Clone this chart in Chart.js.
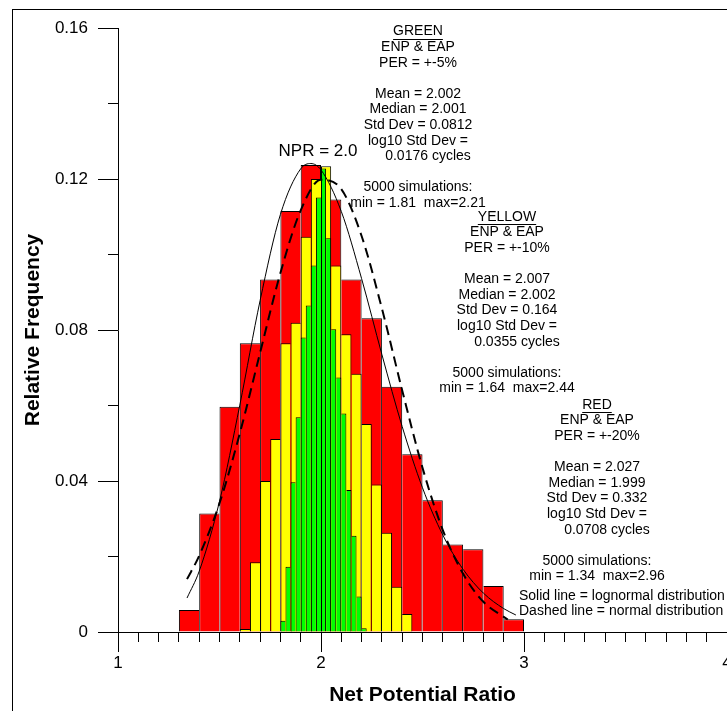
<!DOCTYPE html>
<html><head><meta charset="utf-8">
<script src="https://cdn.jsdelivr.net/npm/chart.js@4"></script>
<style>html,body{margin:0;padding:0;background:#fff}canvas{display:block}</style>
</head><body>
<canvas id="c" width="727" height="711"></canvas>
<script>
// ---- DATA ----
const redBinCenters = [1.35,1.45,1.55,1.65,1.75,1.85,1.95,2.05,2.15,2.25,2.35,2.45,2.55,2.65,2.75,2.85,2.95];
const redFreq = [0.0058,0.0314,0.0597,0.0765,0.0934,0.1115,0.1237,0.1146,0.0934,0.0831,0.0650,0.0471,0.0349,0.0232,0.0219,0.0122,0.0034];

const yellowBinCenters = [1.625,1.675,1.725,1.775,1.825,1.875,1.925,1.975,2.025,2.075,2.125,2.175,2.225,2.275,2.325,2.375,2.425];
const yellowFreq = [0.0008,0.0185,0.0400,0.0511,0.0765,0.0819,0.1047,0.1200,0.1234,0.0971,0.0789,0.0684,0.0551,0.0391,0.0263,0.0120,0.0048];

const greenBinCenters = [1.8125,1.8375,1.8625,1.8875,1.9125,1.9375,1.9625,1.9875,2.0125,2.0375,2.0625,2.0875,2.1125,2.1375,2.1625,2.1875,2.2125];
const greenFreq = [0.0030,0.0173,0.0397,0.0569,0.0780,0.0865,0.0971,0.1151,0.1228,0.1043,0.0802,0.0674,0.0579,0.0376,0.0255,0.0094,0.0010];

const lognormX = [1.34,1.4,1.5,1.6,1.7,1.8,1.9,1.95,2.0,2.1,2.2,2.3,2.4,2.5,2.6,2.7,2.8,2.9,2.96];
const lognormY = [0.0090,0.0161,0.0346,0.0601,0.0878,0.1106,0.1227,0.1241,0.1224,0.1114,0.0936,0.0735,0.0544,0.0382,0.0257,0.0166,0.0103,0.0062,0.0045];

const normalX = [1.34,1.4,1.5,1.6,1.7,1.8,1.9,2.0,2.1,2.2,2.3,2.4,2.5,2.6,2.7,2.8,2.92];
const normalY = [0.0140,0.0202,0.0341,0.0526,0.0740,0.0951,0.1117,0.1198,0.1173,0.1049,0.0857,0.0640,0.0435,0.0270,0.0154,0.0080,0.0033];

const xMajorTicks = [1,2,3,4];
const xMinorTicks = [1.0,1.1,1.2,1.3,1.4,1.5,1.6,1.7,1.8,1.9,2.0,2.1,2.2,2.3,2.4,2.5,2.6,2.7,2.8,2.9,3.0,3.1,3.2,3.3,3.4,3.5,3.6,3.7,3.8,3.9,4.0];
const yMajorTicks = [0,0.04,0.08,0.12,0.16];
const yMinorTicks = [0.02,0.06,0.10,0.14];

const greenText = ['GREEN','ENP & EAP','PER = +-5%','','Mean = 2.002','Median = 2.001','Std Dev = 0.0812','log10 Std Dev =','0.0176 cycles','','5000 simulations:','min = 1.81  max=2.21'];
const yellowText = ['YELLOW','ENP & EAP','PER = +-10%','','Mean = 2.007','Median = 2.002','Std Dev = 0.164','log10 Std Dev =','0.0355 cycles','','5000 simulations:','min = 1.64  max=2.44'];
const redText = ['RED','ENP & EAP','PER = +-20%','','Mean = 2.027','Median = 1.999','Std Dev = 0.332','log10 Std Dev =','0.0708 cycles','','5000 simulations:','min = 1.34  max=2.96'];
const legendText = ['Solid line = lognormal distribution','Dashed line = normal distribution'];
const nprText = 'NPR = 2.0';

// ---- helpers ----
const FONT = "'Liberation Sans', Arial, sans-serif";
const pts = (xs, ys) => xs.map((x,i)=>({x:x, y:ys[i]}));
function edges(freq){
  return ctx => {
    const i = ctx.dataIndex, v = freq[i];
    const p = i>0 ? freq[i-1] : -1, n = i<freq.length-1 ? freq[i+1] : -1;
    return {top:1, bottom:0, left: v>p?1:0, right: v>=n?1:0};
  };
}
function barSet(label, centers, freq, color, axis, order){
  return {type:'bar', label, data: pts(centers, freq), xAxisID: axis, yAxisID:'y',
    backgroundColor: color, borderColor:'#000', borderWidth: edges(freq), borderSkipped:false,
    inflateAmount:0, barPercentage:1, categoryPercentage:1, grouped:false, order};
}
const hiddenX = () => ({type:'linear', display:false, min:1, max:4, offset:false, grid:{offset:false}, ticks:{stepSize:1}});

const framePlugin = {
  id:'frame',
  beforeDraw(chart){
    const c = chart.ctx; c.save();
    c.fillStyle='#fff'; c.fillRect(0,0,chart.width,chart.height);
    c.strokeStyle='#000'; c.lineWidth=1;
    c.strokeRect(12.5,9.5,chart.width+20,chart.height+20);
    c.restore();
  }
};
function drawBlock(c, lines, cx, y0){
  const lh = 15.6;
  lines.forEach((t,i)=>{
    if(!t) return;
    const y = y0 + i*lh;
    const dx = (i===8) ? 10 : 0;
    c.fillText(t, cx+dx, y);
    if(i===0){
      const w = c.measureText(t).width;
      c.beginPath(); c.moveTo(cx-w/2, Math.round(y+7)+0.5); c.lineTo(cx+w/2, Math.round(y+7)+0.5); c.stroke();
    }
  });
}
const textPlugin = {
  id:'texts',
  afterDraw(chart){
    const c = chart.ctx; c.save();
    c.fillStyle='#000'; c.strokeStyle='#000'; c.lineWidth=1;
    c.textBaseline='middle'; c.textAlign='center';
    c.font = '14px ' + FONT;
    drawBlock(c, greenText, 418, 31.5);
    drawBlock(c, yellowText, 507, 217);
    drawBlock(c, redText, 597, 405);
    c.textAlign='left';
    c.fillText(legendText[0], 519, 596);
    c.fillText(legendText[1], 519, 611.5);
    c.textAlign='center';
    c.font = '17px ' + FONT;
    c.fillText(nprText, 318, 151.5);
    c.restore();
  }
};

new Chart(document.getElementById('c'), {
  data: {
    datasets: [
      {type:'line', label:'lognormal', data: pts(lognormX, lognormY), xAxisID:'x', yAxisID:'y',
        borderColor:'#000', borderWidth:1, pointRadius:0, fill:false, cubicInterpolationMode:'monotone', order:0},
      {type:'line', label:'normal', data: pts(normalX, normalY), xAxisID:'x', yAxisID:'y',
        borderColor:'#000', borderWidth:2, borderDash:[10,6], pointRadius:0, fill:false, cubicInterpolationMode:'monotone', order:0},
      barSet('green', greenBinCenters, greenFreq, '#00FF00', 'xG', 1),
      barSet('yellow', yellowBinCenters, yellowFreq, '#FFFF00', 'xY', 2),
      barSet('red', redBinCenters, redFreq, '#FF0000', 'xR', 3)
    ]
  },
  options: {
    responsive:false, devicePixelRatio:1, animation:false,
    layout:{padding:{top:28, left:0, right:0, bottom:0}},
    plugins:{legend:{display:false}, tooltip:{enabled:false}},
    scales:{
      x:{type:'linear', position:'bottom', min:1, max:4, offset:false,
        grid:{offset:false, drawOnChartArea:false, drawTicks:true, tickLength:20, tickColor:'#000', tickWidth:1, color:'#000'},
        border:{display:true, color:'#000', width:1},
        afterBuildTicks(s){ s.ticks = xMajorTicks.map(v=>({value:v})); },
        ticks:{autoSkip:false, maxRotation:0, color:'#000', font:{family:FONT, size:17}, padding:1, callback:v=>String(v)},
        title:{display:true, text:'Net Potential Ratio', color:'#000', font:{family:FONT, size:21, weight:'bold'}, padding:{top:0, bottom:3}},
        afterFit(s){ s.height = 79; s.paddingLeft = 0; s.paddingRight = 0; }
      },
      xMinor:{type:'linear', position:{y:0}, min:1, max:4, offset:false,
        grid:{offset:false, drawOnChartArea:false, drawTicks:true, tickLength:10, tickColor:'#000', tickWidth:1},
        border:{display:false}, ticks:{display:false},
        afterBuildTicks(s){ s.ticks = xMinorTicks.map(v=>({value:v})); }
      },
      y:{type:'linear', position:'left', min:0, max:0.16,
        grid:{drawOnChartArea:false, drawTicks:true, tickLength:20, tickColor:'#000', tickWidth:1, color:'#000'},
        border:{display:true, color:'#000', width:1},
        afterBuildTicks(s){ s.ticks = yMajorTicks.map(v=>({value:v})); },
        ticks:{color:'#000', font:{family:FONT, size:17}, padding:10, callback:v=> v===0 ? '0' : v.toFixed(2)},
        title:{display:true, text:'Relative Frequency', color:'#000', font:{family:FONT, size:21, weight:'bold'}, padding:{top:21, bottom:0}},
        afterFit(s){ s.width = 118; }
      },
      yMinor:{type:'linear', position:{x:1}, min:0, max:0.16,
        grid:{drawOnChartArea:false, drawTicks:true, tickLength:10, tickColor:'#000', tickWidth:1},
        border:{display:false}, ticks:{display:false},
        afterBuildTicks(s){ s.ticks = yMinorTicks.map(v=>({value:v})); }
      },
      xR: hiddenX(), xY: hiddenX(), xG: hiddenX()
    }
  },
  plugins:[framePlugin, textPlugin]
});
</script>
</body></html>
